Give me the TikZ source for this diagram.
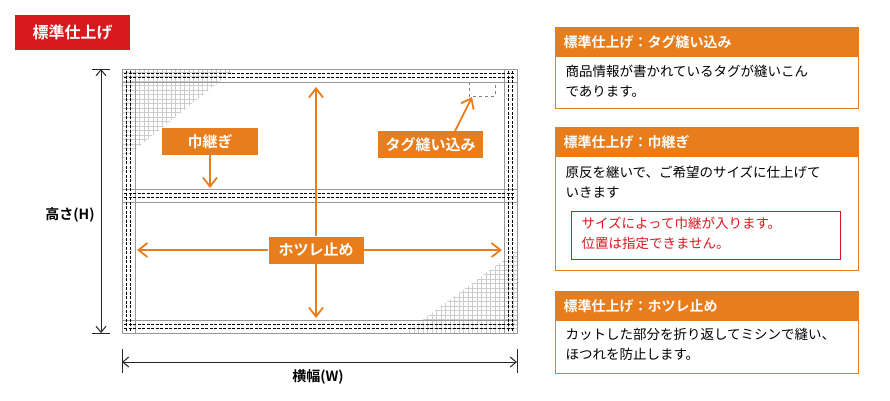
\documentclass[tikz,border=0pt]{standalone}
\usepackage{fontspec}
\setmainfont{Noto Sans CJK JP}
\newfontfamily\jpbold{Noto Sans CJK JP Bold}
\usetikzlibrary{arrows.meta,positioning}
\definecolor{tagorange}{HTML}{EA7D1B}
\definecolor{tagred}{HTML}{D7191F}
\tikzset{
  obox/.style={fill=tagorange,text=white,font=\jpbold\fontsize{15}{15}\selectfont,inner sep=0pt,anchor=center},
  oarrow/.style={draw=tagorange,line width=1.8pt,-{Straight Barb[length=9pt,width=14pt]}},
  seam/.style={draw=gray!80,line width=0.6pt},
  stitch/.style={draw=black,dash pattern=on 3pt off 1.5pt,line width=0.6pt},
  dimline/.style={draw=black!85,line width=1pt,{Straight Barb[length=6pt,width=10pt]}-{Straight Barb[length=6pt,width=10pt]}},
  head/.style={fill=tagorange,text=white,font=\jpbold\fontsize{14}{14}\selectfont,anchor=west},
  bodytxt/.style={font=\fontsize{13.5}{20}\selectfont,align=left,anchor=north west}
}
\begin{document}
\begin{tikzpicture}[x=1pt,y=-1pt]
\useasboundingbox (0,0) rectangle (890,400);
% title
\fill[tagred] (15,15) rectangle (130,50);
\node[text=white,font=\jpbold\fontsize{16}{16}\selectfont] (title) at (72.5,32.5) {標準仕上げ};
% grid corners
\begin{scope}
\clip (122,69) -- (235,69) -- (122,160) -- cycle;
\draw[gray!40,line width=0.4pt,step=4.5pt] (122,69) grid (236,161);
\end{scope}
\begin{scope}
\clip (517,250) -- (517,333) -- (405,333) -- cycle;
\draw[gray!40,line width=0.4pt,step=4.5pt] (404,249) grid (518,334);
\end{scope}
% cloth
\draw[seam] (122,69) rectangle (517,333);
\foreach \y in {82,189,202,320}
  \draw[seam] (122,\y) -- (517,\y);
\foreach \x in {135,504}
  \draw[seam] (\x,69) -- (\x,333);
\foreach \y in {73.5,77.5,193.5,197.5,324.5,328.5}
  \draw[stitch] (124,\y) -- (515,\y);
\foreach \x in {126.5,130.5,508.5,512.5}
  \draw[stitch] (\x,71) -- (\x,331);
\draw[gray,dashed,line width=0.6pt] (469,82) -- (469,96) -- (495,96) -- (495,82);
% dimensions
\coordinate (htop) at (101,69);
\coordinate (hbot) at (101,333);
\draw[dimline] (htop) -- (hbot);
\draw[black!85,line width=1pt] (92,69) -- (110,69) (92,333) -- (110,333);
\node[font=\jpbold\fontsize{14}{14}\selectfont] (hlab) at (70,215) {高さ(H)};
\coordinate (wl) at (122,362);
\coordinate (wr) at (517,362);
\draw[dimline] (wl) -- (wr);
\draw[black!85,line width=1pt] (122,349) -- (122,373) (517,349) -- (517,373);
\node[font=\jpbold\fontsize{14}{14}\selectfont] (wlab) at (318,377) {横幅(W)};
% orange labels and arrows
\node[obox,minimum width=95pt,minimum height=27pt] (hotsure) at (316,250) {ホツレ止め};
\coordinate (vt) at (316,87);
\coordinate (vb) at (316,318);
\coordinate (hl) at (137,250);
\coordinate (hr) at (502,250);
\draw[oarrow] (hotsure.north) -- (vt);
\draw[oarrow] (hotsure.south) -- (vb);
\draw[oarrow] (hotsure.west) -- (hl);
\draw[oarrow] (hotsure.east) -- (hr);
\node[obox,minimum width=96pt,minimum height=27pt] (haba) at (210,141.5) {巾継ぎ};
\coordinate (habaend) at (210,188);
\draw[oarrow] (haba.south) -- (habaend);
\node[obox,minimum width=105pt,minimum height=27pt] (tag) at (430.5,144.5) {タグ縫い込み};
\coordinate (tagend) at (472,97);
\draw[oarrow] (455,131) -- (tagend);
% panels
\foreach \t/\b/\txt in {27/108/標準仕上げ：タグ縫い込み,127/270/標準仕上げ：巾継ぎ,291/373/標準仕上げ：ホツレ止め}{
  \draw[tagorange,line width=1pt,fill=white] (555,\t) rectangle (858,\t+\b-\t);
  \fill[tagorange] (555,\t) rectangle (858,\t+30);
  \node[head] at (560,\t+15) {\txt};
}
\node[bodytxt] (p1) at (562,62) {商品情報が書かれているタグが縫いこん\\であります。};
\node[bodytxt] (p2) at (562,162) {原反を継いで、ご希望のサイズに仕上げて\\いきます};
\draw[tagred,line width=1pt] (571,211) rectangle (840,259);
\node[bodytxt,text=tagred,font=\fontsize{13.5}{20}\selectfont] (warn) at (578,213) {サイズによって巾継が入ります。\\位置は指定できません。};
\node[bodytxt] (p3) at (562,325) {カットした部分を折り返してミシンで縫い、\\ほつれを防止します。};
\end{tikzpicture}
\end{document}
